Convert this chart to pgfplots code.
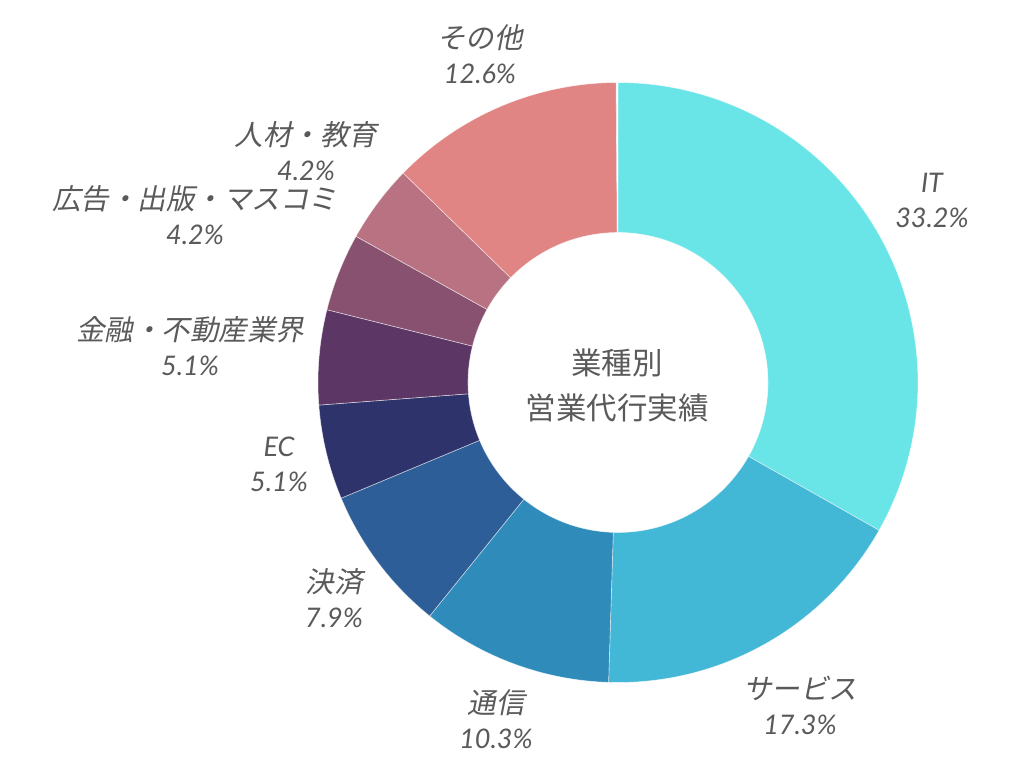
\documentclass[border=0pt]{standalone}
\usepackage{fontspec}
\setmainfont{Lato}
\newfontfamily\jp{Noto Sans CJK JP}
\newfontfamily\jpi{Noto Sans CJK JP}[FakeSlant=0.2]
\usepackage{pgfplots}
\usepackage{pgfplotstable}
\pgfplotsset{compat=1.18}
\definecolor{c0}{HTML}{69E5E8}
\definecolor{c1}{HTML}{43B7D6}
\definecolor{c2}{HTML}{2E8BBA}
\definecolor{c3}{HTML}{2E5E98}
\definecolor{c4}{HTML}{2F336B}
\definecolor{c5}{HTML}{5C3665}
\definecolor{c6}{HTML}{895170}
\definecolor{c7}{HTML}{B87282}
\definecolor{c8}{HTML}{E18484}
\definecolor{lbl}{HTML}{5A5A5A}

\pgfplotstableread{
id value
IT 33.2
Service 17.3
Tsushin 10.3
Kessai 7.9
EC 5.1
Kinyu 5.1
Kokoku 4.2
Jinzai 4.2
Other 12.6
}\datatable

\newcommand\cum{0}
\newcommand\J[1]{{\jpi\fontsize{28.5bp}{35bp}\selectfont #1}}

\begin{document}
\begin{tikzpicture}
\useasboundingbox (0,0) rectangle (1024bp,768bp);
\begin{axis}[
  at={(0,0)}, anchor=south west,
  scale only axis, width=1024bp, height=768bp,
  xmin=0, xmax=1024, ymin=0, ymax=768,
  hide axis, clip=false,
]
\pgfplotsinvokeforeach{0,...,8}{%
  \pgfplotstablegetelem{#1}{value}\of\datatable
  \let\v\pgfplotsretval
  \pgfmathsetmacro\sa{90-3.6*\cum}%
  \pgfmathsetmacro\sb{90-3.6*(\cum+\v)}%
  \pgfmathsetmacro\newcum{\cum+\v}\global\let\cum\newcum
  \edef\doslice{%
    \noexpand\addplot[fill=c#1, draw=white, draw opacity=0.6, line width=0.6bp,
      samples at={0,0.01,...,0.995,1,2,2.01,...,2.995,3}]
      ({618+ifthenelse(x<1.5,300,150)*cos(ifthenelse(x<1.5,\sb+(\sa-\sb)*x,\sa+(\sb-\sa)*(x-2)))},
       {385.5+ifthenelse(x<1.5,300,150)*sin(ifthenelse(x<1.5,\sb+(\sa-\sb)*x,\sa+(\sb-\sa)*(x-2)))}) -- cycle;
  }\doslice
}
\tikzset{lab/.style={align=center, text=lbl, font={\fontsize{27bp}{35bp}\selectfont\itshape}}}
\node[lab] at (axis cs:932,568) {IT\\33.2\%};
\node[lab] at (axis cs:800,63) {\J{サービス}\\17.3\%};
\node[lab] at (axis cs:496,49) {\J{通信}\\10.3\%};
\node[lab] at (axis cs:334,170) {\J{決済}\\7.9\%};
\node[lab] at (axis cs:279,304) {EC\\5.1\%};
\node[lab] at (axis cs:190,421.5) {\J{金融・不動産業界}\\5.1\%};
\node[lab] at (axis cs:195,552.5) {\J{広告・出版・マスコミ}\\4.2\%};
\node[lab] at (axis cs:306,617) {\J{人材・教育}\\4.2\%};
\node[lab] at (axis cs:480,714) {\J{その他}\\12.6\%};
\node[align=center, text=lbl, font={\jp\fontsize{30.5bp}{45bp}\selectfont}] at (axis cs:617,382.5) {業種別\\営業代行実績};
\end{axis}
\end{tikzpicture}
\end{document}
